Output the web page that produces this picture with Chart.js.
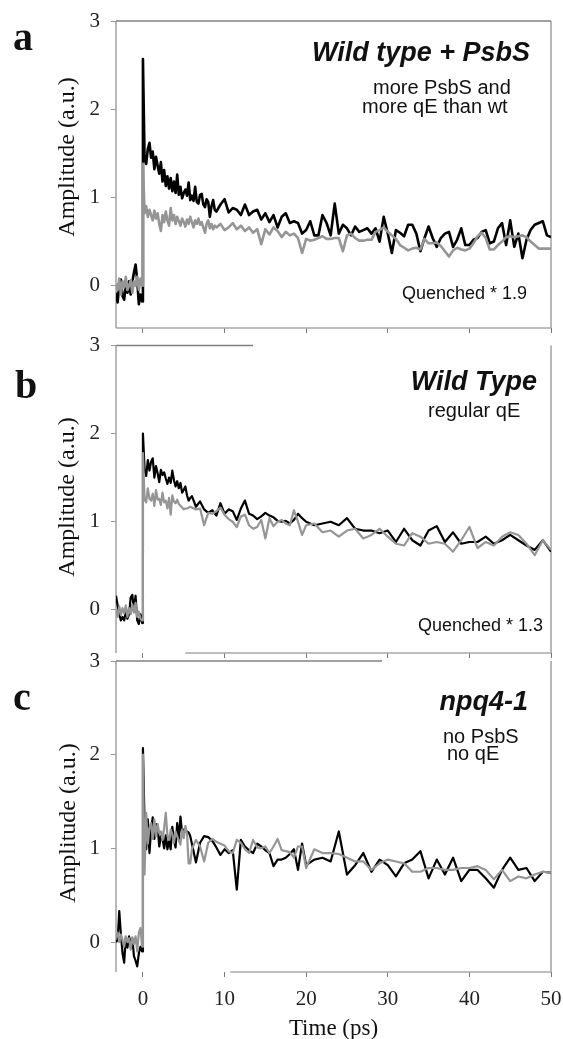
<!DOCTYPE html>
<html>
<head>
<meta charset="utf-8">
<script src="https://cdn.jsdelivr.net/npm/chart.js@4.4.1/dist/chart.umd.min.js"></script>
<style>
  html, body { margin: 0; padding: 0; background: #fff; }
  #wrap { position: relative; width: 563px; height: 1039px; overflow: hidden; }
  #wrap canvas { position: absolute; left: 0; }
</style>
</head>
<body>
<div id="wrap">
  <canvas id="pa" width="563" height="340" style="top:0px"></canvas>
  <canvas id="pb" width="563" height="340" style="top:330px"></canvas>
  <canvas id="pc" width="563" height="389" style="top:650px"></canvas>
</div>
<script>
// pump-probe transients, three strains: black = unquenched, gray = quenched (scaled)
const X_TICKS = [0, 10, 20, 30, 40, 50];
const Y_TICKS = [0, 1, 2, 3];

// time axis (ps) for panel a
const TIME_A = [
  -3.3, -3.1, -2.9, -2.7, -2.5, -2.3, -2.1, -1.9, -1.7, -1.5, -1.3, -1.1, -0.9, -0.7, -0.5, -0.3, -0.1, 0,
  0.2, 0.4, 0.6, 0.8, 1, 1.2, 1.4, 1.6, 1.8, 2, 2.2, 2.4, 2.6, 2.8, 3, 3.2, 3.4, 3.6, 3.8, 4,
  4.2, 4.4, 4.6, 4.8, 5, 5.2, 5.4, 5.6, 5.8, 6, 6.2, 6.4, 6.6, 6.8, 7, 7.2, 7.4, 7.6, 7.8, 8,
  8.2, 8.4, 8.6, 8.8, 9,
  9.5, 10, 10.5, 11, 11.5, 12, 12.5, 13, 13.5, 14, 14.5, 15, 15.5, 16, 16.5, 17, 17.5, 18, 18.5, 19,
  19.5, 20, 20.5, 21, 21.5, 22, 22.5, 23, 23.5, 24, 24.5, 25, 25.5, 26, 26.5, 27, 27.5, 28, 28.5, 29,
  29.5, 30, 30.5, 31, 31.5, 32, 32.5, 33, 33.5, 34, 34.5, 35, 35.5, 36, 36.5, 37, 37.5, 38, 38.5, 39,
  39.5, 40, 40.5, 41, 41.5, 42, 42.5, 43, 43.5, 44, 44.5, 45, 45.5, 46, 46.5, 47, 47.5, 48, 48.5, 49,
  49.5, 50,
];
// time axis (ps) for panels b and c
const TIME_BC = [
  -3.3, -3.1, -2.9, -2.7, -2.5, -2.3, -2.1, -1.9, -1.7, -1.5, -1.3, -1.1, -0.9, -0.7, -0.5, -0.3, -0.1, 0,
  0.2, 0.4, 0.6, 0.8, 1, 1.2, 1.4, 1.6, 1.8, 2, 2.2, 2.4, 2.6, 2.8, 3, 3.2, 3.4, 3.6, 3.8, 4,
  4.2, 4.4, 4.6, 4.8, 5, 5.2, 5.4, 5.6, 5.8, 6,
  6.5, 7, 7.5, 8, 8.5, 9, 9.5, 10, 10.5, 11, 11.5, 12, 12.5, 13, 13.5, 14, 14.5, 15, 15.5, 16,
  16.5, 17, 17.5, 18, 18.5, 19, 19.5, 20,
  21, 22, 23, 24, 25, 26, 27, 28, 29, 30, 31, 32, 33, 34, 35, 36, 37, 38, 39, 40,
  41, 42, 43, 44, 45, 46, 47, 48, 49, 50,
];

// a: Wild type + PsbS
const A_BLACK = [
  -0.08, -0.19, 0.02, 0.07, -0.12, -0.16, 0.00, -0.08, 0.05, -0.10, 0.04, 0.15, 0.24, 0.06, -0.21, -0.10, -0.18, 2.57,
  1.45, 1.38, 1.55, 1.62, 1.45, 1.52, 1.32, 1.46, 1.36, 1.27, 1.40, 1.18, 1.31, 1.13, 1.24, 1.10, 1.22, 1.07, 1.18, 1.05,
  1.26, 1.03, 1.12, 0.99, 1.05, 1.09, 1.02, 1.17, 0.97, 1.02, 0.96, 1.12, 0.95, 0.93, 1.03, 1.04, 0.92, 0.89, 0.98, 0.95,
  0.78, 0.90, 0.97, 0.86, 0.84,
  0.92, 0.98, 0.83, 0.88, 0.86, 0.80, 0.92, 0.80, 0.84, 0.86, 0.75, 0.82, 0.72, 0.80, 0.66, 0.78, 0.82, 0.71, 0.73, 0.71,
  0.59, 0.63, 0.73, 0.57, 0.57, 0.80, 0.71, 0.57, 0.93, 0.59, 0.69, 0.65, 0.57, 0.67, 0.61, 0.63, 0.65, 0.59, 0.65, 0.50,
  0.78, 0.59, 0.37, 0.63, 0.60, 0.56, 0.69, 0.69, 0.59, 0.39, 0.54, 0.67, 0.54, 0.44, 0.54, 0.59, 0.61, 0.44, 0.52, 0.65,
  0.46, 0.46, 0.52, 0.54, 0.61, 0.63, 0.48, 0.50, 0.65, 0.71, 0.46, 0.74, 0.44, 0.59, 0.31, 0.52, 0.63, 0.69, 0.71, 0.73,
  0.57, 0.55,
];
const A_GRAY = [
  0.02, -0.05, 0.08, -0.10, 0.05, -0.02, 0.10, -0.05, 0.00, 0.06, -0.08, 0.05, 0.00, 0.10, -0.05, 0.08, 0.00, 1.38,
  0.82, 0.90, 0.78, 0.86, 0.80, 0.74, 0.85, 0.76, 0.82, 0.70, 0.62, 0.80, 0.72, 0.84, 0.74, 0.68, 0.88, 0.74, 0.80, 0.70,
  0.78, 0.73, 0.68, 0.76, 0.72, 0.67, 0.75, 0.70, 0.78, 0.72, 0.66, 0.74, 0.70, 0.76, 0.69, 0.72, 0.66, 0.60, 0.70, 0.74,
  0.65, 0.70, 0.64, 0.68, 0.66,
  0.70, 0.63, 0.66, 0.71, 0.64, 0.68, 0.62, 0.66, 0.60, 0.64, 0.47, 0.64, 0.58, 0.66, 0.62, 0.55, 0.61, 0.57, 0.59, 0.54,
  0.37, 0.53, 0.51, 0.52, 0.54, 0.56, 0.53, 0.53, 0.54, 0.54, 0.39, 0.57, 0.59, 0.54, 0.51, 0.51, 0.52, 0.52, 0.61, 0.63,
  0.66, 0.61, 0.57, 0.53, 0.46, 0.43, 0.40, 0.42, 0.43, 0.41, 0.53, 0.48, 0.48, 0.49, 0.45, 0.39, 0.33, 0.40, 0.43, 0.41,
  0.40, 0.42, 0.48, 0.56, 0.60, 0.54, 0.41, 0.41, 0.46, 0.50, 0.55, 0.56, 0.55, 0.56, 0.57, 0.55, 0.50, 0.46, 0.42, 0.42,
  0.42, 0.42,
];

// b: Wild Type
const B_BLACK = [
  0.16, 0.05, -0.05, -0.12, -0.08, -0.12, -0.02, -0.10, -0.05, 0.14, 0.17, 0.00, 0.16, -0.12, -0.16, -0.05, -0.15, 2.00,
  1.60, 1.52, 1.70, 1.58, 1.68, 1.72, 1.50, 1.63, 1.55, 1.45, 1.59, 1.53, 1.56, 1.49, 1.43, 1.50, 1.44, 1.58, 1.47, 1.40,
  1.46, 1.38, 1.44, 1.33, 1.36, 1.40, 1.30, 1.24, 1.27, 1.29,
  1.17, 1.23, 1.14, 1.10, 1.13, 1.07, 1.21, 1.09, 1.14, 1.12, 1.02, 1.15, 1.24, 1.09, 1.07, 1.03, 1.06, 1.10, 1.07, 1.05,
  1.01, 1.00, 1.01, 0.98, 1.02, 1.09, 1.04, 1.00,
  0.96, 0.98, 1.00, 0.96, 1.04, 0.92, 0.90, 0.90, 0.87, 0.90, 0.77, 0.92, 0.79, 0.73, 0.90, 0.95, 0.77, 0.88, 0.75, 0.77,
  0.77, 0.83, 0.75, 0.79, 0.85, 0.79, 0.73, 0.68, 0.79, 0.66,
];
const B_GRAY = [
  0.00, -0.08, 0.04, -0.06, 0.02, -0.04, 0.05, -0.08, 0.02, -0.05, 0.06, -0.03, 0.08, -0.08, -0.02, -0.10, -0.12, 1.78,
  1.25, 1.22, 1.38, 1.26, 1.24, 1.32, 1.18, 1.36, 1.25, 1.26, 1.19, 1.33, 1.22, 1.24, 1.15, 1.27, 1.08, 1.30, 1.23, 1.21,
  1.25, 1.20, 1.18, 1.16, 1.14, 1.15, 1.15, 1.16, 1.17, 1.16,
  1.14, 1.15, 0.96, 1.10, 1.09, 1.12, 1.16, 1.08, 1.03, 1.00, 0.94, 1.06, 1.08, 0.96, 0.92, 0.94, 1.02, 0.81, 1.04, 0.95,
  1.00, 1.02, 0.98, 0.96, 1.13, 1.00, 0.85, 0.96,
  0.98, 0.88, 0.90, 0.83, 0.90, 0.92, 0.81, 0.85, 0.92, 0.83, 0.75, 0.73, 0.87, 0.83, 0.75, 0.77, 0.75, 0.66, 0.79, 0.94,
  0.70, 0.77, 0.73, 0.83, 0.88, 0.85, 0.75, 0.62, 0.79, 0.68,
];

// c: npq4-1
const C_BLACK = [
  0.00, 0.02, 0.33, 0.08, -0.12, -0.22, 0.05, -0.06, 0.06, -0.01, 0.04, -0.15, -0.20, -0.26, -0.12, -0.05, -0.10, 2.07,
  1.27, 0.99, 1.31, 0.95, 1.20, 1.33, 1.10, 1.26, 1.24, 1.02, 1.13, 1.10, 1.00, 1.14, 0.99, 1.08, 0.99, 1.23, 1.09, 1.01,
  1.27, 1.10, 1.34, 1.16, 1.20, 1.18, 1.18, 1.17, 1.13, 1.05,
  0.85, 1.06, 1.13, 1.12, 1.08, 1.01, 0.93, 0.99, 0.95, 0.98, 0.56, 1.09, 1.02, 0.98, 0.95, 1.05, 1.02, 0.98, 0.95, 0.81,
  0.88, 0.88, 0.90, 0.94, 0.99, 0.77, 1.05, 0.82,
  0.88, 0.90, 0.86, 1.18, 0.72, 0.82, 0.95, 0.75, 0.88, 0.82, 0.70, 0.84, 0.88, 0.97, 0.68, 0.88, 0.72, 0.90, 0.65, 0.77,
  0.77, 0.68, 0.58, 0.77, 0.90, 0.77, 0.79, 0.65, 0.75, 0.74,
];
const C_GRAY = [
  0.05, 0.10, 0.00, 0.08, 0.02, -0.05, 0.06, 0.00, 0.04, -0.08, 0.05, -0.02, 0.06, -0.10, 0.10, 0.15, -0.05, 2.00,
  0.72, 1.38, 1.05, 1.22, 1.27, 1.10, 1.31, 1.13, 1.26, 1.16, 1.18, 1.09, 1.22, 1.38, 1.13, 1.09, 1.20, 1.15, 1.06, 1.18,
  1.13, 1.08, 1.04, 1.20, 1.11, 1.24, 1.16, 0.84, 0.84, 0.99,
  1.09, 1.02, 0.86, 1.06, 1.10, 1.07, 1.05, 1.03, 0.97, 0.95, 1.09, 1.06, 0.99, 0.95, 1.09, 1.01, 1.00, 1.02, 0.95, 1.02,
  1.10, 0.98, 0.97, 0.96, 0.90, 1.02, 1.02, 0.79,
  0.99, 0.95, 0.95, 0.94, 0.90, 0.86, 0.86, 0.77, 0.84, 0.88, 0.86, 0.84, 0.75, 0.75, 0.79, 0.79, 0.77, 0.77, 0.79, 0.79,
  0.81, 0.77, 0.67, 0.77, 0.65, 0.70, 0.68, 0.72, 0.75, 0.74,
];

const SERIF = '"Liberation Serif", "Times New Roman", serif';
const SANS = '"Liberation Sans", Arial, sans-serif';
const GRAY = "#959595";
const X_MIN = -3.3, X_MAX = 50, Y_MAX = 3;

const pts = (t, v) => t.map((x, i) => ({ x, y: v[i] }));

const seg = (ctx, x1, y1, x2, y2) => {
  ctx.beginPath(); ctx.moveTo(x1, y1); ctx.lineTo(x2, y2); ctx.stroke();
};

// frame + all the free text on each panel
const deco = {
  id: "deco",
  beforeDatasetsDraw(chart, args, o) {
    const { ctx, chartArea: a, scales: { x } } = chart;
    ctx.save();
    ctx.lineWidth = 1.5;
    ctx.strokeStyle = "#a0a0a0";
    seg(ctx, a.left, a.top, a.left, a.bottom);
    seg(ctx, a.right, a.top, a.right, a.bottom);
    ctx.strokeStyle = "#808080";
    seg(ctx, a.left, a.top, x.getPixelForValue(o.topTo), a.top);
    ctx.strokeStyle = "#a8a8a8";
    seg(ctx, x.getPixelForValue(o.bottomFrom), a.bottom, a.right, a.bottom);
    ctx.restore();
  },
  afterDraw(chart, args, o) {
    const { ctx, chartArea: a } = chart;
    ctx.save();
    ctx.fillStyle = "#111";
    ctx.textBaseline = "alphabetic";
    // panel letter
    ctx.font = `bold 40px ${SERIF}`;
    ctx.textAlign = "left";
    ctx.fillText(o.letter, o.letterPos[0], o.letterPos[1]);
    // strain title
    ctx.font = `italic bold 27px ${SANS}`;
    ctx.textAlign = "right";
    ctx.fillText(o.title, o.titlePos[0], o.titlePos[1]);
    // notes
    ctx.font = `20px ${SANS}`;
    ctx.textAlign = "left";
    o.notes.forEach(([s, nx, ny]) => ctx.fillText(s, nx, ny));
    if (o.quench) {
      ctx.font = `18px ${SANS}`;
      ctx.fillText(o.quench[0], o.quench[1], o.quench[2]);
    }
    // y title
    ctx.save();
    ctx.translate(o.yTitlePos[0], o.yTitlePos[1]);
    ctx.rotate(-Math.PI / 2);
    ctx.font = `24px ${SERIF}`;
    ctx.textAlign = "center";
    ctx.textBaseline = "middle";
    ctx.fillText("Amplitude (a.u.)", 0, 0);
    ctx.restore();
    // x title (bottom panel only)
    if (o.xTitle) {
      ctx.font = `23px ${SERIF}`;
      ctx.textAlign = "center";
      ctx.fillText(o.xTitle[0], (a.left + a.right) / 2, o.xTitle[1]);
    }
    ctx.restore();
  },
};

function panel(cfg) {
  return new Chart(document.getElementById(cfg.id), {
    type: "line",
    data: {
      datasets: [
        { label: "quenched", data: pts(cfg.time, cfg.gray), borderColor: GRAY, borderWidth: cfg.lw, order: 0 },
        { label: "unquenched", data: pts(cfg.time, cfg.black), borderColor: "#000", borderWidth: cfg.lw, order: 1 },
      ],
    },
    options: {
      responsive: false, animation: false,
      layout: { padding: { left: 0, right: 12, top: cfg.padTop, bottom: 0 } },
      elements: { point: { radius: 0 }, line: { tension: 0, borderJoinStyle: "round" } },
      plugins: { legend: { display: false }, tooltip: { enabled: false }, deco: cfg.deco },
      scales: {
        x: {
          type: "linear", min: X_MIN, max: X_MAX,
          afterBuildTicks: (s) => { s.ticks = X_TICKS.map((v) => ({ value: v })); },
          afterFit: (s) => { s.height = cfg.xHeight; s.paddingLeft = 0; s.paddingRight = 0; },
          grid: { drawOnChartArea: false, tickLength: 5, color: "#777" },
          border: { display: false },
          ticks: { display: cfg.xLabels, padding: 10, color: "#222", maxRotation: 0, autoSkip: false,
                   font: { family: SERIF, size: 21 } },
        },
        y: {
          min: cfg.yMin, max: Y_MAX,
          afterBuildTicks: (s) => { s.ticks = Y_TICKS.map((v) => ({ value: v })); },
          afterFit: (s) => { s.width = 116; s.paddingTop = 0; s.paddingBottom = 0; },
          grid: { drawOnChartArea: false, tickLength: 5, color: "#999" },
          border: { display: false },
          ticks: { padding: 11, color: "#222", font: { family: SERIF, size: 21 } },
        },
      },
    },
    plugins: [deco],
  });
}

panel({
  id: "pa", time: TIME_A, black: A_BLACK, gray: A_GRAY, lw: 2.6,
  padTop: 21, xHeight: 12, yMin: -0.48, xLabels: false,
  deco: {
    letter: "a", letterPos: [13, 50],
    title: "Wild type + PsbS", titlePos: [530, 61],
    notes: [["more PsbS and", 373, 94], ["more qE than wt", 362, 113]],
    quench: ["Quenched * 1.9", 402, 299],
    yTitlePos: [68, 157], topTo: 50, bottomFrom: -3.3,
  },
});
panel({
  id: "pb", time: TIME_BC, black: B_BLACK, gray: B_GRAY, lw: 2.2,
  padTop: 15.5, xHeight: 17, yMin: -0.49, xLabels: false,
  deco: {
    letter: "b", letterPos: [15, 68],
    title: "Wild Type", titlePos: [537, 60],
    notes: [["regular qE", 428, 87]],
    quench: ["Quenched * 1.3", 418, 301],
    yTitlePos: [68, 167], topTo: 13.5, bottomFrom: 5.2,
  },
});
panel({
  id: "pc", time: TIME_BC, black: C_BLACK, gray: C_GRAY, lw: 2.2,
  padTop: 11, xHeight: 67, yMin: -0.32, xLabels: true,
  deco: {
    letter: "c", letterPos: [13, 60],
    title: "npq4-1", titlePos: [528, 60],
    notes: [["no PsbS", 443, 93], ["no qE", 447, 110]],
    yTitlePos: [69, 173], topTo: 29.3, bottomFrom: 10.7,
    xTitle: ["Time (ps)", 385],
  },
});
</script>
</body>
</html>
